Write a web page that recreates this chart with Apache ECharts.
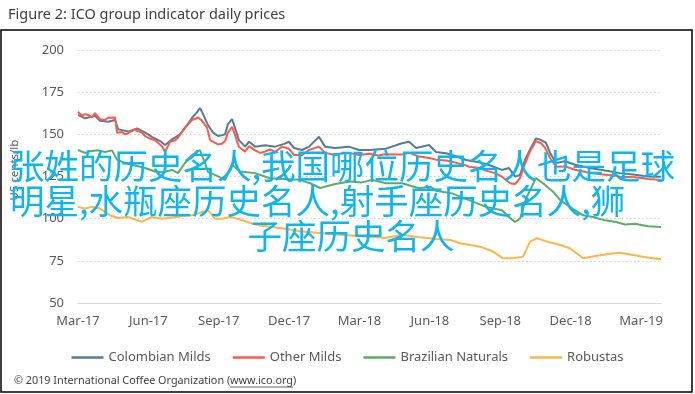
<!DOCTYPE html>
<html>
<head>
<meta charset="utf-8">
<script src="https://cdn.jsdelivr.net/npm/echarts@6/dist/echarts.min.js"></script>
<style>html,body{margin:0;padding:0;background:#fff}#c{width:695px;height:394px}</style>
</head>
<body>
<div id="c"></div>
<script>
// x = months since Mar-2017
const tickLabels = ['Mar-17','Jun-17','Sep-17','Dec-17','Mar-18','Jun-18','Sep-18','Dec-18','Mar-19'];
const seriesNames = ['Colombian Milds','Other Milds','Brazilian Naturals','Robustas'];
const colombianMilds = [[0,161.5],[0.3,159.5],[0.6,160.5],[0.72,161],[0.94,158],[1.28,157.5],[1.58,158.5],[1.71,153],[1.88,152.5],[2.22,151.5],[2.52,153.5],[2.86,151],[3.15,148.5],[3.5,146],[3.71,143.7],[4.01,147],[4.35,150],[4.65,155.5],[4.9,160.5],[5.07,163],[5.2,165.6],[5.33,162],[5.54,155.5],[5.76,151],[5.97,149],[6.14,149.5],[6.27,150],[6.39,156],[6.57,159],[6.86,146.6],[7.12,142.7],[7.29,145.6],[7.55,142.7],[7.97,143.5],[8.4,142.7],[8.82,144.5],[8.99,145.6],[9.21,141.9],[9.55,140.7],[9.85,142.7],[10.27,148.6],[10.53,142.7],[10.96,141.9],[11.55,142.7],[11.98,140.7],[12.41,140.7],[13.13,141.5],[13.81,144.7],[14.11,145.6],[14.41,141.9],[14.96,143.7],[15.26,139.5],[15.69,138.8],[16.11,137],[16.54,134.8],[17.09,133.5],[17.52,131.8],[18.07,128.9],[18.37,130],[18.63,124.9],[18.84,126],[19.06,135],[19.27,141],[19.52,147.6],[19.74,146.6],[19.95,145],[20.12,139],[20.38,133],[20.76,134],[21.19,132],[21.83,130],[22.47,128.5],[23.11,127],[23.74,126],[24.3,125],[24.85,124.9]];
const otherMilds = [[0,163.4],[0.17,161],[0.3,162],[0.43,161.5],[0.6,160],[0.72,162.6],[0.85,160.5],[0.94,159],[1.15,158.5],[1.28,159.8],[1.36,159.5],[1.58,160],[1.66,151],[1.88,151.4],[2.0,150],[2.13,150.5],[2.22,152],[2.43,153],[2.52,152],[2.73,151],[2.86,149],[3.07,147.5],[3.28,146.5],[3.41,145],[3.58,143],[3.71,139.5],[3.92,145.5],[4.14,146.5],[4.26,148],[4.56,154],[4.86,158.5],[5.12,160],[5.29,158],[5.5,154],[5.63,146.6],[5.84,145],[5.97,144],[6.14,144.5],[6.27,146],[6.39,151],[6.57,154.5],[6.86,142.7],[7.12,139.7],[7.29,143],[7.55,140.5],[7.76,139],[7.97,139.7],[8.18,141],[8.4,139.7],[8.7,142.7],[8.99,141.5],[9.21,137.7],[9.55,137.7],[9.85,140.7],[10.27,142.7],[10.53,139],[10.96,137.7],[11.17,138.5],[11.55,139],[11.98,137.7],[12.41,138.5],[12.8,137.5],[13.09,138.2],[13.81,138],[14.11,139],[14.54,136.8],[14.96,136],[15.26,135],[15.69,134.5],[15.94,133.8],[16.54,131.5],[16.67,130.8],[17.09,130],[17.39,128.5],[17.78,127],[18.07,124.9],[18.42,121],[18.63,120.5],[18.84,124],[19.06,133],[19.27,140],[19.52,146],[19.74,144.7],[19.91,142],[20.12,136],[20.38,130.8],[20.76,131],[21.19,129],[21.53,128],[21.83,127],[22.47,126],[22.93,125.5],[23.11,124.9],[23.74,124.5],[24.3,123.5],[24.85,123]];
const brazilianNaturals = [[0,140.7],[0.3,139],[0.51,140],[0.85,140.5],[1.15,139.5],[1.45,140.5],[1.66,135],[2.0,133],[2.43,131.5],[2.86,130],[3.28,128],[3.58,127.5],[4.01,128.9],[4.26,127],[4.56,133],[4.86,137.7],[5.2,140.7],[5.41,133],[5.54,127.7],[5.84,126],[6.27,123],[6.57,132],[6.91,128],[7.55,127],[8.18,124],[8.82,123.5],[9.46,123],[9.89,121],[10.32,118.2],[10.96,120.5],[11.6,122],[12.11,121.5],[12.53,123],[13.13,121],[13.81,121],[14.54,118],[15.01,119],[15.26,116.5],[15.94,115],[16.67,111],[17.39,107],[18.07,105],[18.37,101],[18.63,98],[18.84,100],[19.1,112],[19.31,118],[19.52,124],[19.82,121],[20.25,116],[20.55,111],[20.97,107],[21.53,102],[21.95,101],[22.47,99],[22.93,98],[23.32,96.5],[23.74,97],[24.3,95.5],[24.85,95]];
const robustas = [[0,107],[0.3,106],[0.6,107],[0.94,106],[1.36,102],[1.71,100.4],[2.13,101],[2.73,98.2],[3.15,101],[3.58,100],[4.14,101],[4.86,102],[5.54,105],[5.84,100],[6.14,100],[6.48,101],[6.91,99.5],[7.33,97.5],[7.76,96],[8.27,95],[8.82,94],[9.46,92.5],[10.32,91.5],[11.17,90.5],[12.45,89.3],[13.09,88.5],[13.81,90.5],[14.54,89],[15.26,88],[15.86,87.4],[16.28,85.4],[17.14,83.4],[17.69,80.5],[18.12,76.5],[18.54,76.5],[18.97,77.5],[19.27,86.4],[19.57,88.4],[19.99,86.4],[20.55,84.4],[20.97,82.5],[21.53,76.5],[22.12,78],[22.6,79],[23.11,79.8],[23.66,78.5],[24.26,77],[24.85,76]];
const yTicks = {min: 50, max: 200, interval: 25};
const titleText = 'Figure 2: ICO group indicator daily prices';
const yName = 'US cents/lb';
const copyrightPre = '© 2019 International Coffee Organization (';
const copyrightLink = 'www.ico.org';
const copyrightPost = ')';
const overlayLines = ['张姓的历史名人,我国哪位历史名人也是足球', '明星,水瓶座历史名人,射手座历史名人,狮', '子座历史名人'];

const colors = ['#557c96', '#ff5a47', '#5cad63', '#ffb445'];
const font = "'Noto Sans', sans-serif";
const cjk = "'Noto Sans CJK SC', sans-serif";
const chart = echarts.init(document.getElementById('c'), null, {renderer: 'canvas'});
const dataSets = [colombianMilds, otherMilds, brazilianNaturals, robustas];

chart.setOption({
  animation: false,
  backgroundColor: '#fff',
  color: colors,
  grid: {left: 78, right: 34, top: 50, bottom: 91},
  xAxis: {
    type: 'value', min: 0, max: 24.85, interval: 3,
    axisLine: {show: true, lineStyle: {color: '#d9d9d9', width: 1}},
    axisTick: {show: false},
    splitLine: {show: false},
    axisLabel: {
      color: '#595959', fontSize: 13, fontFamily: font, margin: 12, showMaxLabel: false,
      formatter: v => (Math.abs(v % 3) < 1e-9 ? tickLabels[Math.round(v / 3)] : '')
    }
  },
  yAxis: {
    type: 'value', min: yTicks.min, max: yTicks.max, interval: yTicks.interval,
    axisLine: {show: false}, axisTick: {show: false},
    axisLabel: {color: '#595959', fontSize: 13, fontFamily: font, margin: 14},
    splitLine: {lineStyle: {color: '#cfcfcf', type: [1.5, 2.5], width: 1}}
  },
  legend: {
    data: seriesNames, left: 'center', top: 346, itemWidth: 32, itemHeight: 2.5, itemGap: 22,
    icon: 'rect',
    textStyle: {color: '#595959', fontSize: 13, fontFamily: font}
  },
  series: seriesNames.map((n, i) => ({
    name: n, type: 'line', data: dataSets[i], symbol: 'none',
    lineStyle: {width: 2, color: colors[i]}, itemStyle: {color: colors[i]}
  })),
  graphic: [
    {type: 'rect', shape: {x: 1, y: 30, width: 691, height: 362}, style: {fill: 'none', stroke: '#000', lineWidth: 1.5}, z: 100},
    {type: 'text', x: 8, y: 15, style: {text: titleText, fill: '#404040', font: "14.5px 'Noto Sans', sans-serif", textVerticalAlign: 'middle'}, z: 100},
    {type: 'text', x: 15, y: 170, rotation: Math.PI / 2, style: {text: yName, fill: '#595959', font: "11.5px 'Noto Sans', sans-serif", textAlign: 'center', textVerticalAlign: 'middle'}, z: 50},
    {type: 'text', x: 14, y: 381, style: {
      text: '{a|' + copyrightPre + '}{u|' + copyrightLink + '}{a|' + copyrightPost + '}',
      rich: {
        a: {fill: '#404040', font: "10.8px 'Noto Sans', sans-serif"},
        u: {fill: '#404040', font: "10.8px 'Noto Sans', sans-serif", borderColor: 'transparent'}
      },
      textVerticalAlign: 'middle'}, z: 100},
    {type: 'text', x: 10, y: 166, style: {text: overlayLines[0], fill: '#0cb6f0', font: "34.5px " + cjk, textAlign: 'left', textVerticalAlign: 'middle'}, z: 200},
    {type: 'text', x: 10, y: 201, style: {text: overlayLines[1], fill: '#0cb6f0', font: "34.5px " + cjk, textAlign: 'left', textVerticalAlign: 'middle'}, z: 200},
    {type: 'text', x: 351, y: 236, style: {text: overlayLines[2], fill: '#0cb6f0', font: "34.5px " + cjk, textAlign: 'center', textVerticalAlign: 'middle'}, z: 200}
  ]
});
// underline the link part of the copyright line, measured from the rendered text
(function () {
  const ctx = document.createElement('canvas').getContext('2d');
  ctx.font = "10.8px 'Noto Sans', sans-serif";
  const x0 = 14 + ctx.measureText(copyrightPre).width;
  const w = ctx.measureText(copyrightLink).width;
  const g = chart.getOption().graphic[0].elements;
  g.push({type: 'line', shape: {x1: x0, y1: 387, x2: x0 + w, y2: 387}, style: {stroke: '#404040', lineWidth: 0.8}, z: 100});
  chart.setOption({graphic: g}, {replaceMerge: ['graphic']});
})();
</script>
</body>
</html>
